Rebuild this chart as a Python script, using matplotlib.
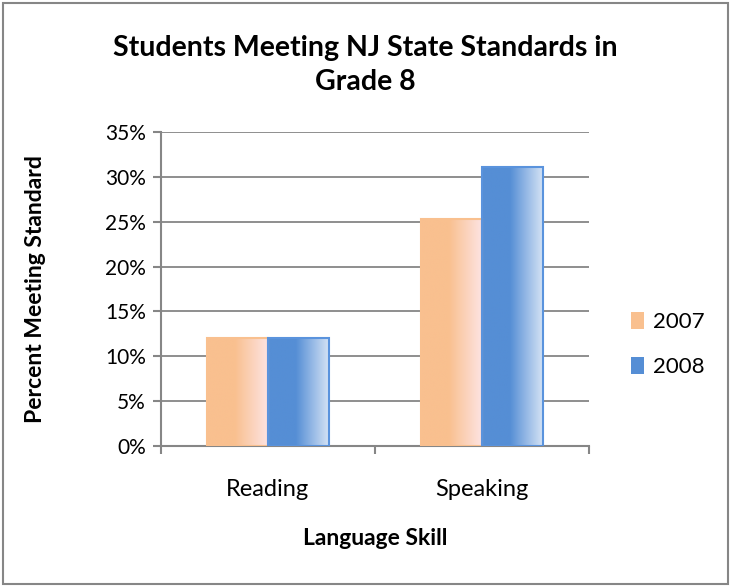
import matplotlib.pyplot as plt
import matplotlib.colors as mcolors
from matplotlib.patches import Rectangle, Patch
import numpy as np

categories = ['Reading', 'Speaking']
years = ['2007', '2008']
values_2007 = [12.0, 25.3]
values_2008 = [12.0, 31.1]

plt.rcParams['font.family'] = ['Lato', 'DejaVu Sans']

fig = plt.figure(figsize=(7.31, 5.87), dpi=100)
ax = fig.add_axes([0.2202, 0.2402, 0.5855, 0.5349])

grid_col = '#868686'
base = {'2007': ('#F9C08F', '#FDE4E4', '#F9C08F'),
        '2008': ('#558ED5', '#D8E5F6', '#5A93DD')}


def gradient_bar(ax, x0, w, h, c1, c2, edge):
    rect = Rectangle((x0, 0), w, h, facecolor='none', edgecolor=edge, lw=1.5, zorder=4)
    ax.add_patch(rect)
    t = np.linspace(0, 1, 200)
    k = np.clip((t - 0.45) / 0.55, 0, 1)
    a = np.array(mcolors.to_rgb(c1))
    b = np.array(mcolors.to_rgb(c2))
    img = a[None, :] * (1 - k[:, None]) + b[None, :] * k[:, None]
    im = ax.imshow(img[None, :, :], extent=[x0, x0 + w, 0, h], aspect='auto',
                   zorder=3, interpolation='bilinear')
    im.set_clip_path(rect)


bw = 0.2857
x = np.arange(len(categories))
for i in range(len(categories)):
    c1, c2, e = base['2007']
    gradient_bar(ax, x[i] - bw, bw, values_2007[i], c1, c2, e)
    c1, c2, e = base['2008']
    gradient_bar(ax, x[i], bw, values_2008[i], c1, c2, e)

ax.set_xlim(-0.5, 1.5)
ax.set_ylim(0, 35)
ax.set_yticks(range(0, 36, 5))
ax.set_yticklabels([f'{v}%' for v in range(0, 36, 5)], fontsize=15)
ax.set_xticks(x)
ax.set_xticklabels(categories, fontsize=17)
ax.set_xticks([-0.5, 0.5, 1.5], minor=True)
ax.tick_params(axis='x', which='major', length=0, pad=24)
ax.tick_params(axis='x', which='minor', length=6, color=grid_col, width=1.5, direction='out')
ax.tick_params(axis='y', length=6, color=grid_col, width=1.5, pad=5)
ax.yaxis.grid(True, color=grid_col, lw=1.3)
ax.set_axisbelow(True)
for s in ['top', 'right']:
    ax.spines[s].set_visible(False)
for s in ['left', 'bottom']:
    ax.spines[s].set_color(grid_col)
    ax.spines[s].set_linewidth(1.5)

ax.set_ylabel('Percent Meeting Standard', fontsize=16.5, fontweight='bold')
ax.yaxis.set_label_coords(-0.294, 0.5)
ax.set_xlabel('Language Skill', fontsize=16.5, fontweight='bold')
ax.xaxis.set_label_coords(0.5, -0.293)
ax.xaxis.label.set_va('center')
ax.yaxis.label.set_va('center')

fig.text(0.5, 0.889, 'Students Meeting NJ State Standards in\nGrade 8', ha='center', va='center',
         fontsize=20.5, fontweight='bold', linespacing=1.37)

handles = [Patch(facecolor=base[y][0], edgecolor='none') for y in years]
fig.legend(handles, years, loc='center left', bbox_to_anchor=(0.836, 0.413), frameon=False,
           fontsize=16, handlelength=0.6, handleheight=0.8, handletextpad=0.4, labelspacing=1.1)

fig.add_artist(Rectangle((0.004, 0.005), 0.992, 0.99, transform=fig.transFigure,
                         fill=False, edgecolor='#868686', lw=1.5))

fig.savefig('out.png', dpi=100)
